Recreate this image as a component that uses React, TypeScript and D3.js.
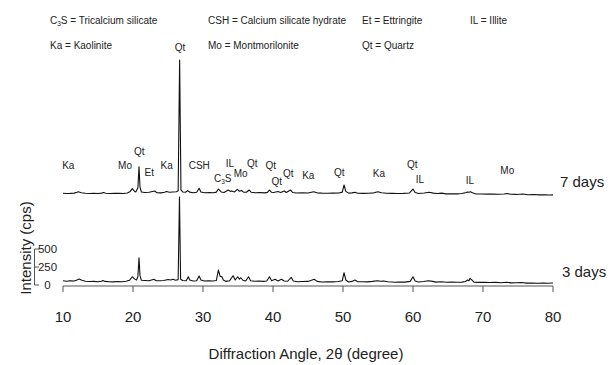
import React from "react";
import * as d3 from "d3";

// ---------- data ----------
const day3: [number, number][] = [
  [10.0,60],[10.5,52],[11.0,58],[11.6,55],[12.0,70],[12.3,83],[12.7,66],[13.2,52],[13.8,48],[14.4,50],[15.0,46],[15.5,52],[15.7,62],[16.0,50],[16.6,46],[17.2,44],[17.8,48],[18.4,46],[19.0,52],[19.5,65],[19.9,115],[20.2,85],[20.5,70],[20.7,120],[20.86,379],[21.0,130],[21.2,66],[21.7,62],[22.3,58],[23.0,79],[23.3,60],[23.8,58],[24.4,62],[25.0,76],[25.4,70],[25.7,79],[26.1,66],[26.45,75],[26.64,1222],[26.8,80],[27.1,62],[27.6,60],[27.9,115],[28.1,70],[28.6,56],[29.1,60],[29.45,125],[29.7,70],[30.2,56],[30.8,60],[31.4,56],[31.9,62],[32.2,208],[32.45,120],[32.7,115],[32.9,70],[33.3,50],[33.8,60],[34.3,129],[34.6,69],[34.95,115],[35.2,80],[35.4,101],[35.7,66],[36.1,56],[36.5,115],[36.8,58],[37.4,52],[38.0,55],[38.6,50],[39.1,56],[39.5,115],[39.8,60],[40.3,79],[40.7,56],[41.2,79],[41.6,55],[42.1,52],[42.6,107],[42.9,55],[43.5,46],[44.2,48],[45.0,50],[45.9,79],[46.3,50],[47.0,42],[47.8,46],[48.5,44],[49.3,48],[49.9,60],[50.15,171],[50.4,70],[50.8,42],[51.3,50],[51.7,69],[52.1,45],[52.8,46],[53.5,44],[54.2,50],[54.9,60],[55.4,52],[55.8,56],[56.4,46],[57.0,42],[57.4,38],[58.0,42],[58.8,40],[59.6,50],[60.0,115],[60.3,55],[60.8,42],[61.5,48],[62.2,60],[62.8,50],[63.3,40],[64.1,46],[64.8,38],[65.5,40],[66.3,38],[67.0,40],[67.5,48],[67.8,69],[68.0,60],[68.15,93],[68.4,70],[68.7,40],[69.4,36],[70.2,38],[71.0,34],[71.8,36],[72.6,32],[73.4,38],[74.0,30],[74.7,32],[75.5,34],[76.2,26],[77.0,28],[77.8,24],[78.6,26],[79.3,24],[80.0,28]
];

const day7: [number, number][] = [
  [10.0,44],[10.5,40],[11.0,42],[11.6,46],[12.0,58],[12.2,66],[12.6,52],[13.2,44],[13.8,40],[14.4,42],[15.0,40],[15.5,46],[15.8,55],[16.1,44],[16.7,40],[17.3,42],[18.0,44],[18.6,40],[19.2,48],[19.6,70],[19.9,108],[20.2,72],[20.4,62],[20.7,120],[20.86,412],[21.0,130],[21.2,62],[21.7,55],[22.3,58],[23.1,76],[23.4,52],[24.0,50],[24.5,58],[24.8,69],[25.2,58],[25.7,62],[26.2,66],[26.45,80],[26.66,1895],[26.85,90],[27.1,62],[27.5,58],[27.8,80],[28.1,60],[28.6,52],[29.1,58],[29.45,113],[29.7,62],[30.2,52],[30.9,55],[31.5,52],[31.9,60],[32.2,103],[32.6,62],[33.0,55],[33.6,89],[33.9,70],[34.1,76],[34.5,62],[34.9,99],[35.2,72],[35.5,83],[35.8,60],[36.2,58],[36.6,89],[36.9,58],[37.5,52],[38.1,55],[38.8,50],[39.2,56],[39.5,89],[39.8,58],[40.1,55],[40.7,69],[41.1,56],[41.6,76],[41.9,55],[42.5,89],[42.8,55],[43.4,48],[44.2,50],[45.0,48],[45.8,66],[46.3,50],[47.0,46],[47.8,44],[48.6,46],[49.4,48],[49.9,60],[50.15,159],[50.4,70],[50.8,46],[51.3,50],[51.7,58],[52.1,44],[52.9,42],[53.7,44],[54.4,50],[55.0,66],[55.5,52],[56.2,44],[57.0,42],[57.8,40],[58.6,42],[59.5,48],[60.0,103],[60.3,55],[60.8,40],[61.6,48],[62.3,58],[62.9,46],[63.5,40],[64.1,46],[64.7,36],[65.5,38],[66.3,36],[67.0,40],[67.6,55],[67.8,62],[68.0,58],[68.2,66],[68.5,50],[69.0,34],[69.8,34],[70.6,32],[71.4,34],[72.2,30],[73.0,34],[73.4,41],[74.0,30],[74.8,28],[75.7,34],[76.4,24],[77.2,26],[78.0,22],[78.8,24],[79.5,20],[80.0,22]
];

const day7Offset = 1230;
const seriesNames = ["3 days", "7 days"];

const xTicks = [10, 20, 30, 40, 50, 60, 70, 80];
const yTicks = [0, 250, 500];

// phase label annotations: text, angle, level (in stacked intensity units)
const peakLabelTexts = ["Ka","Mo","Qt","Et","Ka","Qt","CSH","IL","C3S","Mo","Qt","Qt","Qt","Qt","Ka","Qt","Ka","Qt","IL","IL","Mo"];
const peakLabelAngles = [10.76,18.86,20.9,22.33,24.81,26.71,29.47,33.86,32.81,35.39,37.04,39.67,40.53,42.19,45.04,49.47,55.14,59.9,61.0,68.14,73.47];
const peakLabelLevels = [1667,1667,1851,1565,1667,3301,1667,1690,1482,1551,1690,1667,1435,1551,1528,1565,1551,1681,1468,1449,1588];

const legendRow1 = ["C3S = Tricalcium silicate", "CSH = Calcium silicate hydrate", "Et = Ettringite", "IL = Illite"];
const legendRow2 = ["Ka = Kaolinite", "Mo = Montmorilonite", "Qt = Quartz"];

// ---------- layout ----------
const W = 615, H = 365;
const FONT = "'Liberation Sans', Arial, Helvetica, sans-serif";
const TXT = "#222";

function Label({ text, x, y, size, anchor }: { text: string; x: number; y: number; size: number; anchor: string }) {
  if (text.startsWith("C3S")) {
    return (
      <text x={x} y={y} fontSize={size} textAnchor={anchor} fill={TXT} fontFamily={FONT}>
        C<tspan fontSize={size * 0.65} dy={2}>3</tspan><tspan dy={-2}>S{text.slice(3)}</tspan>
      </text>
    );
  }
  return (
    <text x={x} y={y} fontSize={size} textAnchor={anchor} fill={TXT} fontFamily={FONT}>{text}</text>
  );
}

export default function App() {
  const x = d3.scaleLinear().domain([10, 80]).range([63, 553]);
  const y = d3.scaleLinear().domain([0, 500]).range([285, 249]);
  const line = d3.line<[number, number]>().x(d => x(d[0])).y(d => y(d[1]));
  const d7 = day7.map(([a, c]) => [a, c + day7Offset] as [number, number]);
  const axisY = 286;

  return (
    <div style={{ position: "absolute", left: 0, top: 0 }}>
      <svg width={W} height={H} style={{ display: "block", background: "#fff" }}>
        {/* legend */}
        {legendRow1.map((t, i) => (
          <Label key={"l1" + i} text={t} x={[50, 208, 362, 470][i]} y={24} size={10} anchor="start" />
        ))}
        {legendRow2.map((t, i) => (
          <Label key={"l2" + i} text={t} x={[50, 208, 362][i]} y={49} size={10} anchor="start" />
        ))}

        {/* traces */}
        <path d={line(day3) || ""} fill="none" stroke="#111" strokeWidth={1.1} strokeLinejoin="round" />
        <path d={line(d7) || ""} fill="none" stroke="#111" strokeWidth={1.1} strokeLinejoin="round" />

        {/* peak labels */}
        {peakLabelTexts.map((t, i) => (
          <Label key={"p" + i} text={t} x={x(peakLabelAngles[i])} y={y(peakLabelLevels[i]) + 3.6} size={10} anchor="middle" />
        ))}

        {/* series names */}
        <text x={560} y={187} fontSize={15} fill={TXT} fontFamily={FONT}>{seriesNames[1]}</text>
        <text x={562} y={277} fontSize={15} fill={TXT} fontFamily={FONT}>{seriesNames[0]}</text>

        {/* x axis */}
        <line x1={x(10)} x2={x(80)} y1={axisY} y2={axisY} stroke="#555" strokeWidth={1} />
        {xTicks.map(t => (
          <g key={"xt" + t}>
            <line x1={x(t)} x2={x(t)} y1={axisY} y2={axisY + 6} stroke="#555" strokeWidth={1} />
            <text x={x(t)} y={322} fontSize={15} textAnchor="middle" fill={TXT} fontFamily={FONT}>{t}</text>
          </g>
        ))}
        <text x={306} y={359} fontSize={15} textAnchor="middle" fill={TXT} fontFamily={FONT}>Diffraction Angle, 2θ (degree)</text>

        {/* y axis bracket */}
        <line x1={34.5} x2={34.5} y1={y(500)} y2={y(0)} stroke="#555" strokeWidth={1} />
        {yTicks.map(t => (
          <g key={"yt" + t}>
            <line x1={34.5} x2={39} y1={y(t)} y2={y(t)} stroke="#555" strokeWidth={1} />
            <text x={47.5} y={y(t) + 4.1} fontSize={11.5} textAnchor="middle" fill={TXT} fontFamily={FONT}>{t}</text>
          </g>
        ))}
        <text transform={`translate(25,248) rotate(-90)`} fontSize={15} textAnchor="middle" dominantBaseline="central" fill={TXT} fontFamily={FONT}>Intensity (cps)</text>
      </svg>
    </div>
  );
}
